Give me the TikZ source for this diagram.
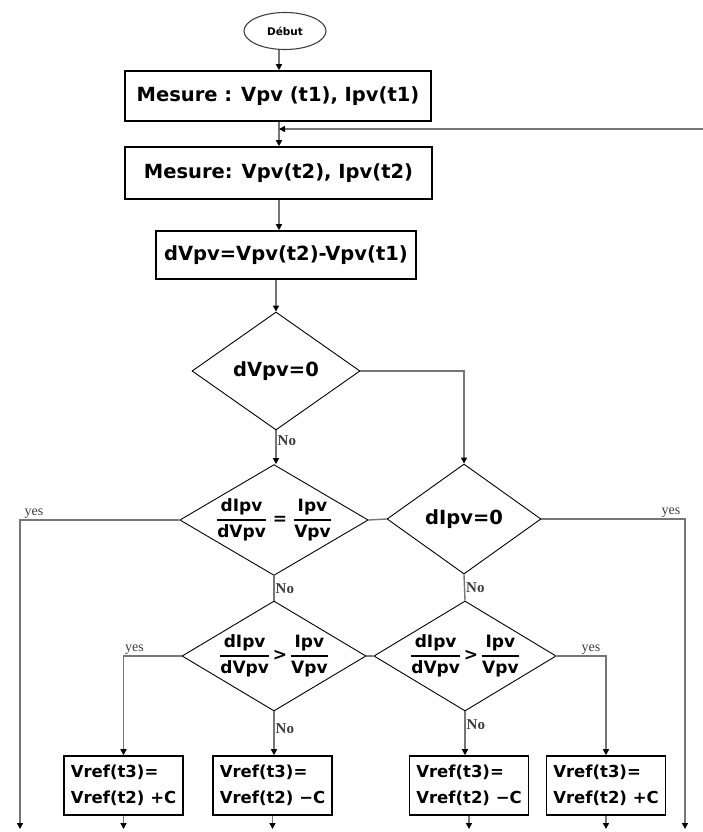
\documentclass[tikz,border=0pt]{standalone}
\usepackage{fontspec}
\usetikzlibrary{shapes.geometric,arrows.meta}
\newfontfamily\dvs{DejaVu Sans}
\newfontfamily\lbs{Liberation Serif}
\definecolor{linegray}{RGB}{118,118,118}
\definecolor{labelgray}{RGB}{60,60,60}
% fraction built from bold text parts, with a heavier bar
\newcommand{\tfr}[2]{\ensuremath{\displaystyle{\mbox{#1}\above 1.4pt\mbox{#2}}}}
\begin{document}
\begin{tikzpicture}[x=1pt,y=-1pt,
  conn/.style={draw=linegray, line width=1.4pt},
  arr/.style={conn, -{Triangle[length=6pt,width=6pt,color=black]}},
  procbox/.style={draw=black, line width=1.6pt, inner sep=0pt,
    font={\dvs\bfseries\fontsize{19.5}{22}\selectfont}},
  refbox/.style={draw=black, line width=1.6pt, inner sep=0pt,
    minimum width=119pt, minimum height=59pt,
    font={\dvs\bfseries\fontsize{16.5}{26}\selectfont}},
  test/.style={diamond, aspect=1.7, draw=black, line width=0.9pt, inner sep=0pt},
  bigtest/.style={test, font={\dvs\bfseries\fontsize{19.5}{22}\selectfont}},
  fractest/.style={test, font={\dvs\bfseries\fontsize{17}{19}\selectfont}},
  nolbl/.style={font={\lbs\bfseries\fontsize{15}{15}\selectfont}, text=labelgray, inner sep=1pt},
  yeslbl/.style={font={\lbs\fontsize{14}{14}\selectfont}, text=labelgray, inner sep=1pt},
]
\useasboundingbox (0,0) rectangle (703,832);

% main vertical axis of the upper part
\coordinate (axis) at (279,0);
\coordinate (loop) at (703,129);
\coordinate (bottom) at (0,829);
\coordinate (outL) at (20,829);
\coordinate (outR) at (685,829);

% start and measurement blocks
\node[ellipse, draw=black!75, line width=1.1pt, minimum width=82pt, minimum height=37pt,
      inner sep=0pt, font={\dvs\bfseries\fontsize{10.5}{12}\selectfont}] (debut) at (285,31) {Début};
\node[procbox, minimum width=306pt, minimum height=50pt] (m1) at (278,96) {Mesure : Vpv (t1), Ipv(t1)};
\node[procbox, minimum width=307pt, minimum height=52pt] (m2) at (278.5,173) {Mesure: Vpv(t2), Ipv(t2)};
\node[procbox, minimum width=260pt, minimum height=48pt] (m3) at (286,255) {dVpv=Vpv(t2)-Vpv(t1)};

% decisions
\node[bigtest, minimum width=168pt, minimum height=118pt] (d1) at (276,371) {dVpv=0};
\node[fractest, minimum width=184pt, minimum height=108pt] (d2) at (274,520)
  {\tfr{dIpv}{dVpv}\mbox{ = }\tfr{Ipv}{Vpv}};
\node[bigtest, minimum width=154pt, minimum height=110pt] (d3) at (464,519) {dIpv=0};
\node[fractest, minimum width=184pt, minimum height=110pt] (d4) at (274,656)
  {\tfr{dIpv}{dVpv}\mbox{\,>\,}\tfr{Ipv}{Vpv}};
\node[fractest, minimum width=180pt, minimum height=110pt] (d5) at (465,656)
  {\tfr{dIpv}{dVpv}\mbox{\,>\,}\tfr{Ipv}{Vpv}};

% reference voltage updates
\node[refbox] (bA) at (123.5,785.5) {\begin{tabular}{@{}l@{}}Vref(t3)=\\Vref(t2) +C\end{tabular}};
\node[refbox] (bB) at (272.5,785.5) {\begin{tabular}{@{}l@{}}Vref(t3)=\\Vref(t2) −C\end{tabular}};
\node[refbox] (bC) at (469,785.5) {\begin{tabular}{@{}l@{}}Vref(t3)=\\Vref(t2) −C\end{tabular}};
\node[refbox] (bD) at (606,785.5) {\begin{tabular}{@{}l@{}}Vref(t3)=\\Vref(t2) +C\end{tabular}};

% upper chain
\draw[arr] (debut.south -| axis) -- (m1.north -| axis);
\draw[arr] (m1.south -| axis) -- (m2.north -| axis);
\draw[arr] (loop) -- (loop -| axis);
\draw[arr] (m2.south -| axis) -- (m3.north -| axis);
\draw[arr] (m3.south -| d1.north) -- (d1.north);

% first test
\draw[arr] (d1.south) -- (d1.south |- d2.north) node[nolbl, pos=0.3, anchor=west] {No};
\draw[arr] (d1.east) -| (d3.north);

% second row
\draw[conn] (d2.east) -- (d3.west);
\draw[arr] (d2.west) -| node[yeslbl, pos=0.5, anchor=south west, xshift=3pt] {yes} (outL);
\draw[arr] (d3.east) -| node[yeslbl, pos=0.5, anchor=south east, xshift=-3pt] {yes} (outR);
\draw[conn] (d2.south) -- (d4.north) node[nolbl, pos=0.5, anchor=west] {No};
\draw[conn] (d3.south) -- (d5.north) node[nolbl, pos=0.5, anchor=west] {No};

% third row
\draw[conn] (d4.east) -- (d5.west);
\draw[arr] (d4.west) -| node[yeslbl, pos=0.5, anchor=south west, xshift=0pt] {yes} (bA.north);
\draw[arr] (d4.south) -- (d4.south |- bB.north) node[nolbl, pos=0.4, anchor=west] {No};
\draw[arr] (d5.south) -- (d5.south |- bC.north) node[nolbl, pos=0.3, anchor=west] {No};
\draw[arr] (d5.east) -| node[yeslbl, pos=0.5, anchor=south east, xshift=-4pt] {yes} (bD.north);

% exits below the update blocks
\foreach \b in {bA,bB,bC,bD}
  \draw[arr] (\b.south) -- (\b.south |- bottom);
\end{tikzpicture}
\end{document}
